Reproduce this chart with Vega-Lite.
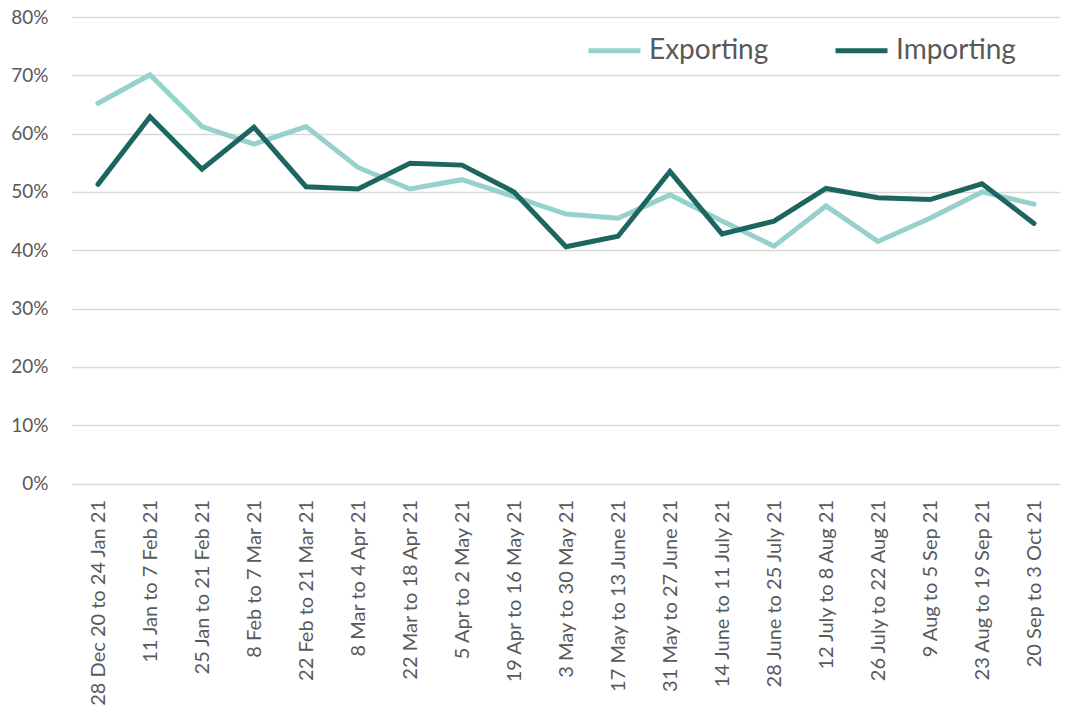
{
  "$schema": "https://vega.github.io/schema/vega-lite/v6.json",
  "autosize": "none",
  "width": 988,
  "height": 466.5,
  "padding": {"left": 72, "top": 17, "right": 7, "bottom": 236},
  "background": "white",
  "config": {
    "font": "Lato",
    "view": {"stroke": null},
    "axis": {"labelColor": "#595959", "labelFont": "Lato"}
  },
  "data": {
    "values": [
      {"period": "28 Dec 20 to 24 Jan 21", "series": "Exporting", "value": 0.652},
      {"period": "11 Jan to 7 Feb 21", "series": "Exporting", "value": 0.701},
      {"period": "25 Jan to 21 Feb 21", "series": "Exporting", "value": 0.612},
      {"period": "8 Feb to 7 Mar 21", "series": "Exporting", "value": 0.582},
      {"period": "22 Feb to 21 Mar 21", "series": "Exporting", "value": 0.612},
      {"period": "8 Mar to 4 Apr 21", "series": "Exporting", "value": 0.542},
      {"period": "22 Mar to 18 Apr 21", "series": "Exporting", "value": 0.505},
      {"period": "5 Apr to 2 May 21", "series": "Exporting", "value": 0.521},
      {"period": "19 Apr to 16 May 21", "series": "Exporting", "value": 0.492},
      {"period": "3 May to 30 May 21", "series": "Exporting", "value": 0.462},
      {"period": "17 May to 13 June 21", "series": "Exporting", "value": 0.455},
      {"period": "31 May to 27 June 21", "series": "Exporting", "value": 0.495},
      {"period": "14 June to 11 July 21", "series": "Exporting", "value": 0.450},
      {"period": "28 June to 25 July 21", "series": "Exporting", "value": 0.407},
      {"period": "12 July to 8 Aug 21", "series": "Exporting", "value": 0.476},
      {"period": "26 July to 22 Aug 21", "series": "Exporting", "value": 0.415},
      {"period": "9 Aug to 5 Sep 21", "series": "Exporting", "value": 0.455},
      {"period": "23 Aug to 19 Sep 21", "series": "Exporting", "value": 0.500},
      {"period": "20 Sep to 3 Oct 21", "series": "Exporting", "value": 0.479},
      {"period": "28 Dec 20 to 24 Jan 21", "series": "Importing", "value": 0.513},
      {"period": "11 Jan to 7 Feb 21", "series": "Importing", "value": 0.629},
      {"period": "25 Jan to 21 Feb 21", "series": "Importing", "value": 0.539},
      {"period": "8 Feb to 7 Mar 21", "series": "Importing", "value": 0.611},
      {"period": "22 Feb to 21 Mar 21", "series": "Importing", "value": 0.509},
      {"period": "8 Mar to 4 Apr 21", "series": "Importing", "value": 0.505},
      {"period": "22 Mar to 18 Apr 21", "series": "Importing", "value": 0.549},
      {"period": "5 Apr to 2 May 21", "series": "Importing", "value": 0.546},
      {"period": "19 Apr to 16 May 21", "series": "Importing", "value": 0.500},
      {"period": "3 May to 30 May 21", "series": "Importing", "value": 0.406},
      {"period": "17 May to 13 June 21", "series": "Importing", "value": 0.424},
      {"period": "31 May to 27 June 21", "series": "Importing", "value": 0.535},
      {"period": "14 June to 11 July 21", "series": "Importing", "value": 0.428},
      {"period": "28 June to 25 July 21", "series": "Importing", "value": 0.450},
      {"period": "12 July to 8 Aug 21", "series": "Importing", "value": 0.506},
      {"period": "26 July to 22 Aug 21", "series": "Importing", "value": 0.490},
      {"period": "9 Aug to 5 Sep 21", "series": "Importing", "value": 0.487},
      {"period": "23 Aug to 19 Sep 21", "series": "Importing", "value": 0.514},
      {"period": "20 Sep to 3 Oct 21", "series": "Importing", "value": 0.446}
    ]
  },
  "mark": {"type": "line", "strokeWidth": 5, "strokeCap": "round", "strokeJoin": "miter"},
  "encoding": {
    "x": {
      "field": "period",
      "type": "nominal",
      "sort": null,
      "scale": {"type": "point", "padding": 0.5},
      "axis": {
        "title": null,
        "labelAngle": -90,
        "labelFontSize": 20,
        "labelPadding": 16,
        "ticks": false,
        "domain": false,
        "grid": false,
        "labelOverlap": false,
        "labelLimit": 300
      }
    },
    "y": {
      "field": "value",
      "type": "quantitative",
      "scale": {"domain": [0, 0.8], "nice": false},
      "axis": {
        "title": null,
        "format": ".0%",
        "values": [0, 0.1, 0.2, 0.3, 0.4, 0.5, 0.6, 0.7, 0.8],
        "labelFontSize": 19,
        "labelPadding": 24,
        "ticks": false,
        "domain": false,
        "gridColor": "#d9d9d9",
        "gridWidth": 1.3
      }
    },
    "color": {
      "field": "series",
      "type": "nominal",
      "scale": {"domain": ["Exporting", "Importing"], "range": ["#96d1cb", "#1d6660"]},
      "legend": {
        "title": null,
        "orient": "none",
        "legendX": 514,
        "legendY": 5,
        "direction": "horizontal",
        "symbolType": "stroke",
        "symbolSize": 2704,
        "symbolStrokeWidth": 5,
        "labelFontSize": 28,
        "labelColor": "#595959",
        "labelOffset": 6,
        "columnPadding": 56,
        "labelFont": "Lato"
      }
    }
  }
}
